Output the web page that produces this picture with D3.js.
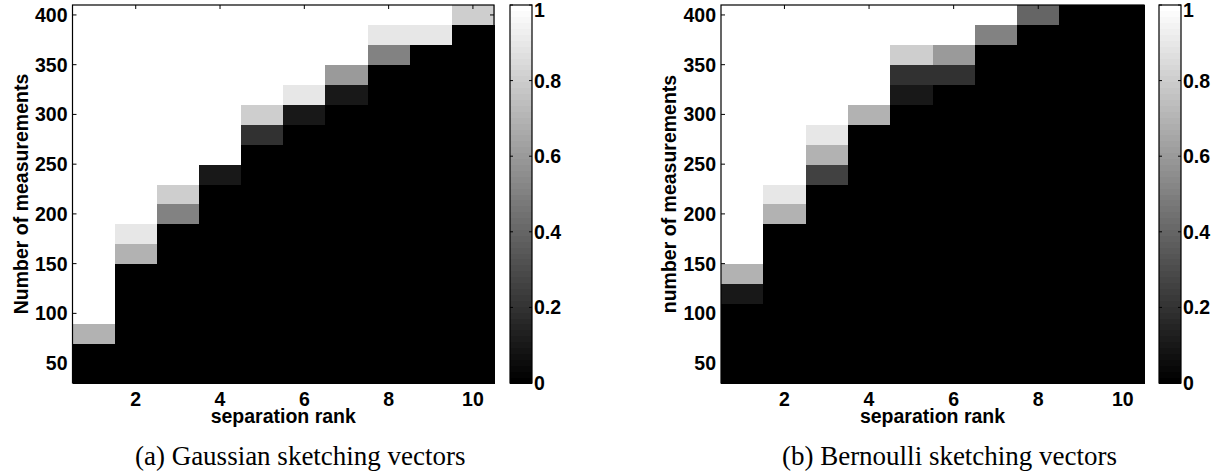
<!DOCTYPE html>
<html>
<head>
<meta charset="utf-8">
<script src="https://cdn.jsdelivr.net/npm/d3@7"></script>
<style>
  body { margin: 0; background: #fff; }
  svg { display: block; }
  .lbl { font-family: "Liberation Sans", Arial, Helvetica, sans-serif; font-weight: bold; font-size: 19.5px; fill: #000; }
  .cap { font-family: "Liberation Serif", "Times New Roman", Times, serif; font-size: 27px; fill: #000; }
</style>
</head>
<body>
<div id="vis"></div>
<script>
// separation rank (columns) and number of measurements (rows)
const ranks = [1, 2, 3, 4, 5, 6, 7, 8, 9, 10];
const measurements = [40, 60, 80, 100, 120, 140, 160, 180, 200, 220, 240, 260, 280, 300, 320, 340, 360, 380, 400];
const xTicks = [2, 4, 6, 8, 10];
const yTicks = [50, 100, 150, 200, 250, 300, 350, 400];
const cbTicks = [0, 0.2, 0.4, 0.6, 0.8, 1];

// recovery rate per rank, listed for m = 40 ... 400
const gaussianRate = [
  [0, 0, 0.7, 1, 1, 1, 1, 1, 1, 1, 1, 1, 1, 1, 1, 1, 1, 1, 1],
  [0, 0, 0, 0, 0, 0, 0.7, 0.9, 1, 1, 1, 1, 1, 1, 1, 1, 1, 1, 1],
  [0, 0, 0, 0, 0, 0, 0, 0, 0.5, 0.8, 1, 1, 1, 1, 1, 1, 1, 1, 1],
  [0, 0, 0, 0, 0, 0, 0, 0, 0, 0, 0.1, 1, 1, 1, 1, 1, 1, 1, 1],
  [0, 0, 0, 0, 0, 0, 0, 0, 0, 0, 0, 0, 0.2, 0.8, 1, 1, 1, 1, 1],
  [0, 0, 0, 0, 0, 0, 0, 0, 0, 0, 0, 0, 0, 0.1, 0.9, 1, 1, 1, 1],
  [0, 0, 0, 0, 0, 0, 0, 0, 0, 0, 0, 0, 0, 0, 0.1, 0.6, 1, 1, 1],
  [0, 0, 0, 0, 0, 0, 0, 0, 0, 0, 0, 0, 0, 0, 0, 0, 0.5, 0.9, 1],
  [0, 0, 0, 0, 0, 0, 0, 0, 0, 0, 0, 0, 0, 0, 0, 0, 0, 0.9, 1],
  [0, 0, 0, 0, 0, 0, 0, 0, 0, 0, 0, 0, 0, 0, 0, 0, 0, 0, 0.8]
];

const bernoulliRate = [
  [0, 0, 0, 0, 0.1, 0.7, 1, 1, 1, 1, 1, 1, 1, 1, 1, 1, 1, 1, 1],
  [0, 0, 0, 0, 0, 0, 0, 0, 0.7, 0.9, 1, 1, 1, 1, 1, 1, 1, 1, 1],
  [0, 0, 0, 0, 0, 0, 0, 0, 0, 0, 0.25, 0.7, 0.9, 1, 1, 1, 1, 1, 1],
  [0, 0, 0, 0, 0, 0, 0, 0, 0, 0, 0, 0, 0, 0.7, 1, 1, 1, 1, 1],
  [0, 0, 0, 0, 0, 0, 0, 0, 0, 0, 0, 0, 0, 0, 0.1, 0.2, 0.8, 1, 1],
  [0, 0, 0, 0, 0, 0, 0, 0, 0, 0, 0, 0, 0, 0, 0, 0.2, 0.6, 1, 1],
  [0, 0, 0, 0, 0, 0, 0, 0, 0, 0, 0, 0, 0, 0, 0, 0, 0, 0.5, 1],
  [0, 0, 0, 0, 0, 0, 0, 0, 0, 0, 0, 0, 0, 0, 0, 0, 0, 0, 0.4],
  [0, 0, 0, 0, 0, 0, 0, 0, 0, 0, 0, 0, 0, 0, 0, 0, 0, 0, 0],
  [0, 0, 0, 0, 0, 0, 0, 0, 0, 0, 0, 0, 0, 0, 0, 0, 0, 0, 0]
];

const panels = [
  { rate: gaussianRate, ylabel: "Number of measurements", caption: "(a) Gaussian sketching vectors",
    left: 72.5, right: 494, cbLeft: 510, cbRight: 532 },
  { rate: bernoulliRate, ylabel: "number of measurements", caption: "(b) Bernoulli sketching vectors",
    left: 721, right: 1144, cbLeft: 1159, cbRight: 1181 }
];

const width = 1222, height = 476;
const plotTop = 5, plotBottom = 383;
const tickLen = 4;

// MATLAB gray colormap, 64 levels
const grayLevel = v => {
  const i = Math.min(63, Math.floor(v * 64));
  const g = Math.round(i / 63 * 255);
  return d3.rgb(g, g, g).toString();
};

const svg = d3.select("#vis").append("svg")
  .attr("width", width)
  .attr("height", height);

panels.forEach(p => {
  const x = d3.scaleLinear().domain([0.5, 10.5]).range([p.left, p.right]);
  const y = d3.scaleLinear().domain([30, 410]).range([plotBottom, plotTop]);
  const g = svg.append("g");

  const cells = [];
  p.rate.forEach((col, ri) => {
    col.forEach((v, mi) => cells.push({ r: ranks[ri], m: measurements[mi], v: v }));
  });

  g.append("g")
    .attr("shape-rendering", "crispEdges")
    .selectAll("rect")
    .data(cells)
    .enter()
    .append("rect")
    .attr("x", d => x(d.r - 0.5))
    .attr("y", d => y(d.m + 10))
    .attr("width", d => x(d.r + 0.5) - x(d.r - 0.5) + 0.5)
    .attr("height", d => y(d.m - 10) - y(d.m + 10) + 0.5)
    .attr("fill", d => grayLevel(d.v));

  // inward ticks on all four sides
  const ticks = g.append("g").attr("stroke", "#000").attr("stroke-width", 1);
  xTicks.forEach(t => {
    ticks.append("line").attr("x1", x(t)).attr("x2", x(t)).attr("y1", plotTop).attr("y2", plotTop + tickLen);
    ticks.append("line").attr("x1", x(t)).attr("x2", x(t)).attr("y1", plotBottom).attr("y2", plotBottom - tickLen);
  });
  yTicks.forEach(t => {
    ticks.append("line").attr("x1", p.left).attr("x2", p.left + tickLen).attr("y1", y(t)).attr("y2", y(t));
    ticks.append("line").attr("x1", p.right).attr("x2", p.right - tickLen).attr("y1", y(t)).attr("y2", y(t));
  });

  g.append("rect")
    .attr("x", p.left)
    .attr("y", plotTop)
    .attr("width", p.right - p.left)
    .attr("height", plotBottom - plotTop)
    .attr("fill", "none")
    .attr("stroke", "#000")
    .attr("stroke-width", 1.2);

  g.selectAll(".xt")
    .data(xTicks)
    .enter()
    .append("text")
    .attr("class", "lbl")
    .attr("x", x)
    .attr("y", 405.5)
    .attr("text-anchor", "middle")
    .text(d => d);

  g.selectAll(".yt")
    .data(yTicks)
    .enter()
    .append("text")
    .attr("class", "lbl")
    .attr("x", p.left - 5)
    .attr("y", d => y(d))
    .attr("dy", "0.36em")
    .attr("text-anchor", "end")
    .text(d => d);

  g.append("text")
    .attr("class", "lbl")
    .attr("text-anchor", "middle")
    .attr("transform", "translate(" + (p.left + p.right) / 2 + ",423)")
    .text("separation rank");

  g.append("text")
    .attr("class", "lbl")
    .attr("text-anchor", "middle")
    .attr("transform", "translate(" + (p.left - 45) + "," + (plotTop + plotBottom) / 2 + ") rotate(-90)")
    .text(p.ylabel);

  // colorbar
  const c = d3.scaleLinear().domain([0, 1]).range([plotBottom, plotTop]);
  const steps = d3.range(64);
  g.append("g")
    .attr("shape-rendering", "crispEdges")
    .selectAll("rect")
    .data(steps)
    .enter()
    .append("rect")
    .attr("x", p.cbLeft)
    .attr("width", p.cbRight - p.cbLeft)
    .attr("y", i => c((i + 1) / 64))
    .attr("height", i => c(i / 64) - c((i + 1) / 64) + 0.5)
    .attr("fill", i => grayLevel((i + 0.5) / 64));

  const cbt = g.append("g").attr("stroke", "#000").attr("stroke-width", 1);
  cbTicks.forEach(t => {
    cbt.append("line").attr("x1", p.cbLeft).attr("x2", p.cbLeft + 3).attr("y1", c(t)).attr("y2", c(t));
    cbt.append("line").attr("x1", p.cbRight).attr("x2", p.cbRight - 3).attr("y1", c(t)).attr("y2", c(t));
  });

  g.append("rect")
    .attr("x", p.cbLeft)
    .attr("y", plotTop)
    .attr("width", p.cbRight - p.cbLeft)
    .attr("height", plotBottom - plotTop)
    .attr("fill", "none")
    .attr("stroke", "#000")
    .attr("stroke-width", 1.2);

  g.selectAll(".ct")
    .data(cbTicks)
    .enter()
    .append("text")
    .attr("class", "lbl")
    .attr("x", p.cbRight + 2)
    .attr("y", d => c(d))
    .attr("dy", d => d === 1 ? "0.6em" : "0.36em")
    .text(d => String(d));

  g.append("text")
    .attr("class", "cap")
    .attr("x", (p.left + p.right) / 2 + 17)
    .attr("y", 465)
    .attr("text-anchor", "middle")
    .text(p.caption);
});
</script>
</body>
</html>
